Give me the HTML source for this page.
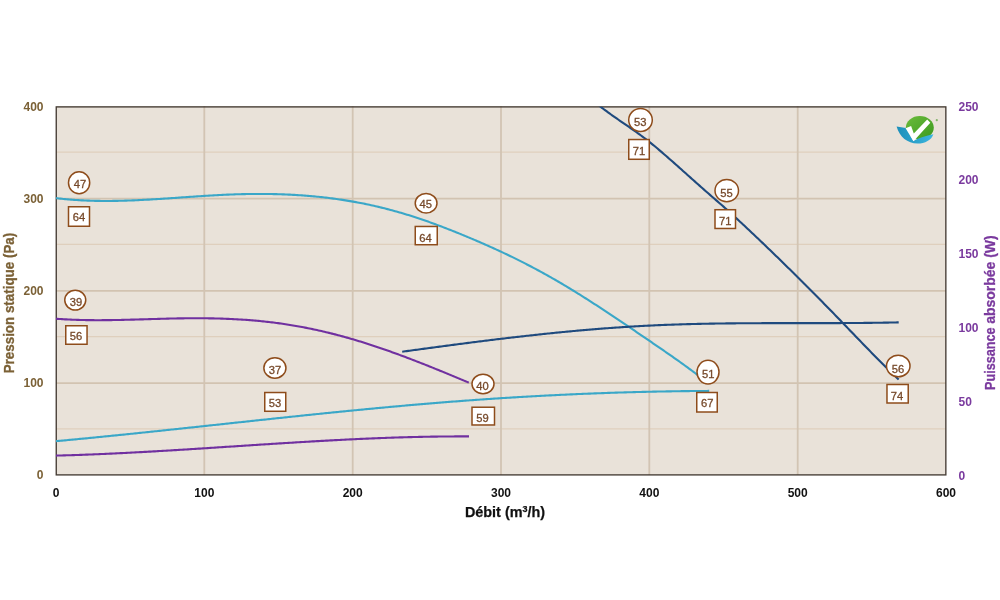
<!DOCTYPE html>
<html><head><meta charset="utf-8"><style>
html,body{margin:0;padding:0;background:#fff;width:1000px;height:600px;overflow:hidden}
svg{display:block;will-change:transform}
text{font-family:"Liberation Sans",sans-serif}
.lb{font-size:11.2px;fill:#76492a;stroke:#76492a;stroke-width:0.3px;text-anchor:middle}
.tl{font-size:12px;font-weight:bold;fill:#7b6136;text-anchor:end}
.tr{font-size:12px;font-weight:bold;fill:#7a3a9e;text-anchor:start}
.tx{font-size:12px;font-weight:bold;fill:#111;text-anchor:middle}
.ttl{font-size:14.4px;font-weight:bold;fill:#111;stroke:#111;stroke-width:0.25px;text-anchor:middle}
.ytl{font-size:14.5px;font-weight:bold;fill:#7b6136;stroke:#7b6136;stroke-width:0.3px}
.ytr{font-size:14.5px;font-weight:bold;fill:#7a3a9e;stroke:#7a3a9e;stroke-width:0.3px}
</style></head><body>
<svg width="1000" height="600" viewBox="0 0 1000 600">
<rect x="56.0" y="106.0" width="890.0" height="369.0" fill="#e9e2d9"/>
<line x1="56.0" y1="428.9" x2="946.0" y2="428.9" stroke="#dfcfbd" stroke-width="1.4"/>
<line x1="56.0" y1="336.6" x2="946.0" y2="336.6" stroke="#dfcfbd" stroke-width="1.4"/>
<line x1="56.0" y1="244.4" x2="946.0" y2="244.4" stroke="#dfcfbd" stroke-width="1.4"/>
<line x1="56.0" y1="152.1" x2="946.0" y2="152.1" stroke="#dfcfbd" stroke-width="1.4"/>
<line x1="56.0" y1="383.1" x2="946.0" y2="383.1" stroke="#d2c3b1" stroke-width="1.7"/>
<line x1="56.0" y1="290.8" x2="946.0" y2="290.8" stroke="#d2c3b1" stroke-width="1.7"/>
<line x1="56.0" y1="198.6" x2="946.0" y2="198.6" stroke="#d2c3b1" stroke-width="1.7"/>
<line x1="204.3" y1="106.0" x2="204.3" y2="475.0" stroke="#d2c4b3" stroke-width="1.8"/>
<line x1="352.7" y1="106.0" x2="352.7" y2="475.0" stroke="#d2c4b3" stroke-width="1.8"/>
<line x1="501.0" y1="106.0" x2="501.0" y2="475.0" stroke="#d2c4b3" stroke-width="1.8"/>
<line x1="649.3" y1="106.0" x2="649.3" y2="475.0" stroke="#d2c4b3" stroke-width="1.8"/>
<line x1="797.7" y1="106.0" x2="797.7" y2="475.0" stroke="#d2c4b3" stroke-width="1.8"/>
<rect x="56.25" y="106.9" width="889.6" height="368" fill="none" stroke="#453c34" stroke-width="1.35"/>
<clipPath id="pc"><rect x="56" y="106.7" width="890" height="369"/></clipPath><g clip-path="url(#pc)">
<path d="M56.00 198.08 L57.50 198.27 L59.00 198.44 L60.50 198.61 L62.00 198.78 L63.50 198.93 L65.00 199.09 L66.50 199.23 L68.00 199.37 L69.50 199.50 L71.00 199.62 L72.50 199.74 L74.00 199.85 L75.50 199.96 L77.00 200.06 L78.50 200.15 L80.00 200.24 L81.50 200.33 L83.00 200.40 L84.50 200.48 L86.00 200.54 L87.50 200.60 L89.00 200.66 L90.50 200.71 L92.00 200.76 L93.50 200.80 L95.00 200.84 L96.50 200.87 L98.00 200.89 L99.50 200.91 L101.00 200.93 L102.50 200.95 L104.00 200.95 L105.50 200.96 L107.00 200.96 L108.50 200.95 L110.00 200.94 L111.50 200.93 L113.00 200.92 L114.50 200.90 L116.00 200.87 L117.50 200.84 L119.00 200.81 L120.50 200.78 L122.00 200.74 L123.50 200.70 L125.00 200.66 L126.50 200.61 L128.00 200.56 L129.50 200.50 L131.00 200.45 L132.50 200.39 L134.00 200.33 L135.50 200.26 L137.00 200.19 L138.50 200.13 L140.00 200.05 L141.50 199.98 L143.00 199.90 L144.50 199.82 L146.00 199.74 L147.50 199.66 L149.00 199.58 L150.50 199.49 L152.00 199.40 L153.50 199.31 L155.00 199.22 L156.50 199.13 L158.00 199.03 L159.50 198.94 L161.00 198.84 L162.50 198.74 L164.00 198.64 L165.50 198.54 L167.00 198.44 L168.50 198.34 L170.00 198.24 L171.50 198.14 L173.00 198.03 L174.50 197.93 L176.00 197.83 L177.50 197.72 L179.00 197.62 L180.50 197.51 L182.00 197.41 L183.50 197.30 L185.00 197.20 L186.50 197.09 L188.00 196.99 L189.50 196.89 L191.00 196.78 L192.50 196.68 L194.00 196.58 L195.50 196.48 L197.00 196.38 L198.50 196.28 L200.00 196.18 L201.50 196.08 L203.00 195.99 L204.50 195.89 L206.00 195.80 L207.50 195.70 L209.00 195.61 L210.50 195.52 L212.00 195.44 L213.50 195.35 L215.00 195.27 L216.50 195.18 L218.00 195.10 L219.50 195.03 L221.00 194.95 L222.50 194.88 L224.00 194.80 L225.50 194.73 L227.00 194.67 L228.50 194.60 L230.00 194.54 L231.50 194.48 L233.00 194.43 L234.50 194.37 L236.00 194.32 L237.50 194.28 L239.00 194.23 L240.50 194.19 L242.00 194.15 L243.50 194.12 L245.00 194.09 L246.50 194.06 L248.00 194.03 L249.50 194.01 L251.00 193.99 L252.50 193.97 L254.00 193.96 L255.50 193.95 L257.00 193.94 L258.50 193.94 L260.00 193.93 L261.50 193.94 L263.00 193.94 L264.50 193.95 L266.00 193.97 L267.50 193.98 L269.00 194.00 L270.50 194.03 L272.00 194.05 L273.50 194.09 L275.00 194.12 L276.50 194.16 L278.00 194.20 L279.50 194.24 L281.00 194.29 L282.50 194.35 L284.00 194.40 L285.50 194.46 L287.00 194.53 L288.50 194.60 L290.00 194.67 L291.50 194.75 L293.00 194.83 L294.50 194.91 L296.00 195.00 L297.50 195.09 L299.00 195.19 L300.50 195.29 L302.00 195.39 L303.50 195.50 L305.00 195.61 L306.50 195.73 L308.00 195.85 L309.50 195.98 L311.00 196.11 L312.50 196.24 L314.00 196.38 L315.50 196.52 L317.00 196.67 L318.50 196.82 L320.00 196.98 L321.50 197.14 L323.00 197.30 L324.50 197.47 L326.00 197.65 L327.50 197.83 L329.00 198.01 L330.50 198.20 L332.00 198.39 L333.50 198.59 L335.00 198.79 L336.50 199.00 L338.00 199.21 L339.50 199.43 L341.00 199.65 L342.50 199.88 L344.00 200.11 L345.50 200.35 L347.00 200.59 L348.50 200.84 L350.00 201.09 L351.50 201.35 L353.00 201.61 L354.50 201.88 L356.00 202.15 L357.50 202.43 L359.00 202.71 L360.50 203.00 L362.00 203.29 L363.50 203.59 L365.00 203.90 L366.50 204.21 L368.00 204.52 L369.50 204.84 L371.00 205.17 L372.50 205.50 L374.00 205.84 L375.50 206.18 L377.00 206.53 L378.50 206.88 L380.00 207.24 L381.50 207.61 L383.00 207.98 L384.50 208.35 L386.00 208.73 L387.50 209.12 L389.00 209.51 L390.50 209.91 L392.00 210.32 L393.50 210.73 L395.00 211.14 L396.50 211.56 L398.00 211.99 L399.50 212.42 L401.00 212.85 L402.50 213.29 L404.00 213.74 L405.50 214.19 L407.00 214.65 L408.50 215.11 L410.00 215.58 L411.50 216.05 L413.00 216.53 L414.50 217.02 L416.00 217.51 L417.50 218.00 L419.00 218.50 L420.50 219.00 L422.00 219.51 L423.50 220.03 L425.00 220.55 L426.50 221.07 L428.00 221.60 L429.50 222.13 L431.00 222.67 L432.50 223.22 L434.00 223.76 L435.50 224.31 L437.00 224.87 L438.50 225.43 L440.00 225.99 L441.50 226.56 L443.00 227.13 L444.50 227.71 L446.00 228.29 L447.50 228.87 L449.00 229.45 L450.50 230.04 L452.00 230.64 L453.50 231.23 L455.00 231.83 L456.50 232.43 L458.00 233.04 L459.50 233.65 L461.00 234.26 L462.50 234.87 L464.00 235.49 L465.50 236.11 L467.00 236.73 L468.50 237.35 L470.00 237.98 L471.50 238.61 L473.00 239.24 L474.50 239.88 L476.00 240.52 L477.50 241.16 L479.00 241.81 L480.50 242.46 L482.00 243.11 L483.50 243.77 L485.00 244.43 L486.50 245.09 L488.00 245.76 L489.50 246.43 L491.00 247.10 L492.50 247.78 L494.00 248.46 L495.50 249.15 L497.00 249.84 L498.50 250.53 L500.00 251.22 L501.50 251.92 L503.00 252.63 L504.50 253.33 L506.00 254.05 L507.50 254.76 L509.00 255.48 L510.50 256.20 L512.00 256.93 L513.50 257.66 L515.00 258.40 L516.50 259.14 L518.00 259.89 L519.50 260.63 L521.00 261.39 L522.50 262.15 L524.00 262.91 L525.50 263.68 L527.00 264.45 L528.50 265.22 L530.00 266.00 L531.50 266.79 L533.00 267.58 L534.50 268.37 L536.00 269.17 L537.50 269.98 L539.00 270.79 L540.50 271.60 L542.00 272.42 L543.50 273.24 L545.00 274.07 L546.50 274.91 L548.00 275.75 L549.50 276.59 L551.00 277.44 L552.50 278.30 L554.00 279.16 L555.50 280.02 L557.00 280.89 L558.50 281.77 L560.00 282.65 L561.50 283.53 L563.00 284.42 L564.50 285.31 L566.00 286.21 L567.50 287.11 L569.00 288.02 L570.50 288.93 L572.00 289.84 L573.50 290.76 L575.00 291.69 L576.50 292.61 L578.00 293.54 L579.50 294.48 L581.00 295.42 L582.50 296.36 L584.00 297.30 L585.50 298.25 L587.00 299.21 L588.50 300.16 L590.00 301.12 L591.50 302.08 L593.00 303.05 L594.50 304.01 L596.00 304.98 L597.50 305.96 L599.00 306.93 L600.50 307.91 L602.00 308.90 L603.50 309.88 L605.00 310.87 L606.50 311.85 L608.00 312.85 L609.50 313.84 L611.00 314.84 L612.50 315.83 L614.00 316.83 L615.50 317.83 L617.00 318.84 L618.50 319.84 L620.00 320.85 L621.50 321.86 L623.00 322.87 L624.50 323.88 L626.00 324.89 L627.50 325.90 L629.00 326.92 L630.50 327.94 L632.00 328.95 L633.50 329.97 L635.00 330.99 L636.50 332.01 L638.00 333.03 L639.50 334.05 L641.00 335.07 L642.50 336.10 L644.00 337.12 L645.50 338.14 L647.00 339.17 L648.50 340.19 L650.00 341.21 L651.50 342.24 L653.00 343.26 L654.50 344.29 L656.00 345.31 L657.50 346.34 L659.00 347.37 L660.50 348.40 L662.00 349.43 L663.50 350.46 L665.00 351.50 L666.50 352.53 L668.00 353.57 L669.50 354.62 L671.00 355.66 L672.50 356.71 L674.00 357.77 L675.50 358.83 L677.00 359.89 L678.50 360.95 L680.00 362.02 L681.50 363.10 L683.00 364.18 L684.50 365.26 L686.00 366.35 L687.50 367.45 L689.00 368.55 L690.50 369.66 L692.00 370.77 L693.50 371.89 L695.00 373.02 L696.50 374.15 L698.00 375.29 L699.50 376.44 L701.00 377.60 L702.50 378.76 L703.00 379.15" fill="none" stroke="#3aa7c8" stroke-width="2.1" stroke-linecap="butt" stroke-linejoin="round"/>
<path d="M56.00 318.74 L57.50 318.85 L59.00 318.96 L60.50 319.06 L62.00 319.16 L63.50 319.25 L65.00 319.33 L66.50 319.41 L68.00 319.49 L69.50 319.56 L71.00 319.63 L72.50 319.69 L74.00 319.75 L75.50 319.81 L77.00 319.86 L78.50 319.91 L80.00 319.95 L81.50 319.99 L83.00 320.02 L84.50 320.05 L86.00 320.08 L87.50 320.11 L89.00 320.13 L90.50 320.14 L92.00 320.16 L93.50 320.17 L95.00 320.18 L96.50 320.18 L98.00 320.18 L99.50 320.18 L101.00 320.18 L102.50 320.17 L104.00 320.17 L105.50 320.15 L107.00 320.14 L108.50 320.12 L110.00 320.11 L111.50 320.09 L113.00 320.06 L114.50 320.04 L116.00 320.01 L117.50 319.99 L119.00 319.96 L120.50 319.93 L122.00 319.89 L123.50 319.86 L125.00 319.82 L126.50 319.79 L128.00 319.75 L129.50 319.71 L131.00 319.67 L132.50 319.63 L134.00 319.59 L135.50 319.55 L137.00 319.50 L138.50 319.46 L140.00 319.42 L141.50 319.37 L143.00 319.33 L144.50 319.28 L146.00 319.24 L147.50 319.19 L149.00 319.15 L150.50 319.10 L152.00 319.06 L153.50 319.01 L155.00 318.97 L156.50 318.93 L158.00 318.88 L159.50 318.84 L161.00 318.80 L162.50 318.76 L164.00 318.72 L165.50 318.68 L167.00 318.64 L168.50 318.61 L170.00 318.57 L171.50 318.54 L173.00 318.51 L174.50 318.47 L176.00 318.45 L177.50 318.42 L179.00 318.39 L180.50 318.37 L182.00 318.35 L183.50 318.33 L185.00 318.31 L186.50 318.29 L188.00 318.28 L189.50 318.27 L191.00 318.26 L192.50 318.25 L194.00 318.25 L195.50 318.24 L197.00 318.24 L198.50 318.25 L200.00 318.25 L201.50 318.26 L203.00 318.27 L204.50 318.28 L206.00 318.30 L207.50 318.32 L209.00 318.34 L210.50 318.36 L212.00 318.39 L213.50 318.42 L215.00 318.45 L216.50 318.49 L218.00 318.53 L219.50 318.57 L221.00 318.62 L222.50 318.67 L224.00 318.72 L225.50 318.77 L227.00 318.83 L228.50 318.89 L230.00 318.96 L231.50 319.03 L233.00 319.10 L234.50 319.18 L236.00 319.26 L237.50 319.34 L239.00 319.43 L240.50 319.52 L242.00 319.61 L243.50 319.71 L245.00 319.81 L246.50 319.92 L248.00 320.03 L249.50 320.15 L251.00 320.27 L252.50 320.39 L254.00 320.52 L255.50 320.65 L257.00 320.78 L258.50 320.92 L260.00 321.07 L261.50 321.22 L263.00 321.37 L264.50 321.53 L266.00 321.69 L267.50 321.86 L269.00 322.03 L270.50 322.21 L272.00 322.39 L273.50 322.57 L275.00 322.76 L276.50 322.96 L278.00 323.16 L279.50 323.37 L281.00 323.58 L282.50 323.79 L284.00 324.01 L285.50 324.24 L287.00 324.47 L288.50 324.70 L290.00 324.94 L291.50 325.19 L293.00 325.44 L294.50 325.69 L296.00 325.95 L297.50 326.22 L299.00 326.49 L300.50 326.76 L302.00 327.04 L303.50 327.32 L305.00 327.61 L306.50 327.90 L308.00 328.20 L309.50 328.51 L311.00 328.81 L312.50 329.13 L314.00 329.44 L315.50 329.77 L317.00 330.09 L318.50 330.42 L320.00 330.76 L321.50 331.10 L323.00 331.45 L324.50 331.80 L326.00 332.16 L327.50 332.52 L329.00 332.88 L330.50 333.25 L332.00 333.63 L333.50 334.01 L335.00 334.39 L336.50 334.78 L338.00 335.17 L339.50 335.57 L341.00 335.97 L342.50 336.38 L344.00 336.79 L345.50 337.21 L347.00 337.63 L348.50 338.06 L350.00 338.49 L351.50 338.92 L353.00 339.36 L354.50 339.80 L356.00 340.25 L357.50 340.70 L359.00 341.16 L360.50 341.62 L362.00 342.08 L363.50 342.55 L365.00 343.02 L366.50 343.49 L368.00 343.97 L369.50 344.46 L371.00 344.94 L372.50 345.43 L374.00 345.93 L375.50 346.43 L377.00 346.93 L378.50 347.44 L380.00 347.94 L381.50 348.46 L383.00 348.97 L384.50 349.49 L386.00 350.02 L387.50 350.54 L389.00 351.07 L390.50 351.61 L392.00 352.14 L393.50 352.68 L395.00 353.22 L396.50 353.77 L398.00 354.32 L399.50 354.87 L401.00 355.42 L402.50 355.98 L404.00 356.54 L405.50 357.10 L407.00 357.67 L408.50 358.24 L410.00 358.81 L411.50 359.38 L413.00 359.96 L414.50 360.53 L416.00 361.11 L417.50 361.70 L419.00 362.28 L420.50 362.87 L422.00 363.46 L423.50 364.05 L425.00 364.64 L426.50 365.24 L428.00 365.83 L429.50 366.43 L431.00 367.03 L432.50 367.64 L434.00 368.24 L435.50 368.85 L437.00 369.46 L438.50 370.07 L440.00 370.68 L441.50 371.29 L443.00 371.90 L444.50 372.52 L446.00 373.13 L447.50 373.75 L449.00 374.37 L450.50 374.99 L452.00 375.61 L453.50 376.23 L455.00 376.86 L456.50 377.48 L458.00 378.11 L459.50 378.73 L461.00 379.36 L462.50 379.99 L464.00 380.62 L465.50 381.25 L467.00 381.88 L468.50 382.51 L468.80 382.63" fill="none" stroke="#7030a0" stroke-width="2.1" stroke-linecap="butt" stroke-linejoin="round"/>
<path d="M599.00 105.45 L600.50 106.64 L602.00 107.80 L603.50 108.96 L605.00 110.09 L606.50 111.21 L608.00 112.31 L609.50 113.41 L611.00 114.49 L612.50 115.56 L614.00 116.62 L615.50 117.67 L617.00 118.72 L618.50 119.76 L620.00 120.79 L621.50 121.82 L623.00 122.85 L624.50 123.88 L626.00 124.91 L627.50 125.94 L629.00 126.98 L630.50 128.02 L632.00 129.06 L633.50 130.11 L635.00 131.17 L636.50 132.23 L638.00 133.31 L639.50 134.40 L641.00 135.49 L642.50 136.61 L644.00 137.74 L645.50 138.88 L647.00 140.04 L648.50 141.22 L650.00 142.41 L651.50 143.61 L653.00 144.83 L654.50 146.06 L656.00 147.31 L657.50 148.56 L659.00 149.83 L660.50 151.10 L662.00 152.39 L663.50 153.68 L665.00 154.98 L666.50 156.29 L668.00 157.60 L669.50 158.92 L671.00 160.24 L672.50 161.57 L674.00 162.89 L675.50 164.23 L677.00 165.56 L678.50 166.89 L680.00 168.23 L681.50 169.57 L683.00 170.91 L684.50 172.25 L686.00 173.59 L687.50 174.93 L689.00 176.27 L690.50 177.60 L692.00 178.94 L693.50 180.28 L695.00 181.62 L696.50 182.95 L698.00 184.29 L699.50 185.62 L701.00 186.95 L702.50 188.28 L704.00 189.60 L705.50 190.92 L707.00 192.24 L708.50 193.56 L710.00 194.87 L711.50 196.18 L713.00 197.49 L714.50 198.79 L716.00 200.09 L717.50 201.40 L719.00 202.70 L720.50 204.01 L722.00 205.33 L723.50 206.65 L725.00 207.98 L726.50 209.31 L728.00 210.66 L729.50 212.01 L731.00 213.37 L732.50 214.74 L734.00 216.11 L735.50 217.49 L737.00 218.87 L738.50 220.26 L740.00 221.65 L741.50 223.04 L743.00 224.44 L744.50 225.84 L746.00 227.24 L747.50 228.65 L749.00 230.06 L750.50 231.47 L752.00 232.89 L753.50 234.30 L755.00 235.73 L756.50 237.15 L758.00 238.58 L759.50 240.00 L761.00 241.44 L762.50 242.87 L764.00 244.31 L765.50 245.75 L767.00 247.19 L768.50 248.64 L770.00 250.08 L771.50 251.53 L773.00 252.99 L774.50 254.44 L776.00 255.90 L777.50 257.36 L779.00 258.82 L780.50 260.28 L782.00 261.75 L783.50 263.22 L785.00 264.69 L786.50 266.16 L788.00 267.64 L789.50 269.11 L791.00 270.59 L792.50 272.07 L794.00 273.55 L795.50 275.04 L797.00 276.53 L798.50 278.02 L800.00 279.51 L801.50 281.00 L803.00 282.49 L804.50 283.99 L806.00 285.49 L807.50 286.99 L809.00 288.49 L810.50 289.99 L812.00 291.50 L813.50 293.01 L815.00 294.52 L816.50 296.03 L818.00 297.55 L819.50 299.07 L821.00 300.59 L822.50 302.11 L824.00 303.64 L825.50 305.16 L827.00 306.69 L828.50 308.23 L830.00 309.76 L831.50 311.30 L833.00 312.84 L834.50 314.38 L836.00 315.93 L837.50 317.48 L839.00 319.03 L840.50 320.58 L842.00 322.13 L843.50 323.69 L845.00 325.25 L846.50 326.80 L848.00 328.36 L849.50 329.92 L851.00 331.48 L852.50 333.03 L854.00 334.59 L855.50 336.15 L857.00 337.70 L858.50 339.26 L860.00 340.81 L861.50 342.36 L863.00 343.91 L864.50 345.46 L866.00 347.00 L867.50 348.55 L869.00 350.09 L870.50 351.62 L872.00 353.15 L873.50 354.68 L875.00 356.21 L876.50 357.73 L878.00 359.25 L879.50 360.76 L881.00 362.26 L882.50 363.77 L884.00 365.26 L885.50 366.75 L887.00 368.24 L888.50 369.71 L890.00 371.19 L891.50 372.65 L893.00 374.11 L894.50 375.56 L896.00 377.00 L897.50 378.44 L898.70 379.58" fill="none" stroke="#1f4a7e" stroke-width="2.1" stroke-linecap="butt" stroke-linejoin="round"/>
<path d="M402.20 351.72 L403.70 351.52 L405.20 351.31 L406.70 351.11 L408.20 350.90 L409.70 350.70 L411.20 350.49 L412.70 350.29 L414.20 350.08 L415.70 349.88 L417.20 349.67 L418.70 349.47 L420.20 349.26 L421.70 349.06 L423.20 348.86 L424.70 348.65 L426.20 348.45 L427.70 348.25 L429.20 348.04 L430.70 347.84 L432.20 347.64 L433.70 347.44 L435.20 347.24 L436.70 347.04 L438.20 346.84 L439.70 346.63 L441.20 346.43 L442.70 346.23 L444.20 346.04 L445.70 345.84 L447.20 345.64 L448.70 345.44 L450.20 345.24 L451.70 345.04 L453.20 344.85 L454.70 344.65 L456.20 344.45 L457.70 344.26 L459.20 344.06 L460.70 343.87 L462.20 343.67 L463.70 343.48 L465.20 343.28 L466.70 343.09 L468.20 342.90 L469.70 342.70 L471.20 342.51 L472.70 342.32 L474.20 342.13 L475.70 341.94 L477.20 341.75 L478.70 341.56 L480.20 341.37 L481.70 341.18 L483.20 341.00 L484.70 340.81 L486.20 340.62 L487.70 340.44 L489.20 340.25 L490.70 340.07 L492.20 339.88 L493.70 339.70 L495.20 339.52 L496.70 339.33 L498.20 339.15 L499.70 338.97 L501.20 338.79 L502.70 338.61 L504.20 338.43 L505.70 338.25 L507.20 338.08 L508.70 337.90 L510.20 337.72 L511.70 337.55 L513.20 337.37 L514.70 337.20 L516.20 337.03 L517.70 336.85 L519.20 336.68 L520.70 336.51 L522.20 336.34 L523.70 336.17 L525.20 336.00 L526.70 335.83 L528.20 335.67 L529.70 335.50 L531.20 335.34 L532.70 335.17 L534.20 335.01 L535.70 334.84 L537.20 334.68 L538.70 334.52 L540.20 334.36 L541.70 334.20 L543.20 334.04 L544.70 333.89 L546.20 333.73 L547.70 333.57 L549.20 333.42 L550.70 333.26 L552.20 333.11 L553.70 332.96 L555.20 332.81 L556.70 332.66 L558.20 332.51 L559.70 332.36 L561.20 332.21 L562.70 332.07 L564.20 331.92 L565.70 331.78 L567.20 331.63 L568.70 331.49 L570.20 331.35 L571.70 331.21 L573.20 331.07 L574.70 330.93 L576.20 330.80 L577.70 330.66 L579.20 330.53 L580.70 330.39 L582.20 330.26 L583.70 330.13 L585.20 330.00 L586.70 329.87 L588.20 329.74 L589.70 329.61 L591.20 329.49 L592.70 329.36 L594.20 329.24 L595.70 329.12 L597.20 329.00 L598.70 328.88 L600.20 328.76 L601.70 328.64 L603.20 328.53 L604.70 328.41 L606.20 328.30 L607.70 328.18 L609.20 328.07 L610.70 327.96 L612.20 327.86 L613.70 327.75 L615.20 327.64 L616.70 327.54 L618.20 327.43 L619.70 327.33 L621.20 327.23 L622.70 327.13 L624.20 327.03 L625.70 326.94 L627.20 326.84 L628.70 326.75 L630.20 326.65 L631.70 326.56 L633.20 326.47 L634.70 326.38 L636.20 326.30 L637.70 326.21 L639.20 326.13 L640.70 326.04 L642.20 325.96 L643.70 325.88 L645.20 325.80 L646.70 325.73 L648.20 325.65 L649.70 325.58 L651.20 325.50 L652.70 325.43 L654.20 325.36 L655.70 325.29 L657.20 325.23 L658.70 325.16 L660.20 325.10 L661.70 325.03 L663.20 324.97 L664.70 324.91 L666.20 324.85 L667.70 324.80 L669.20 324.74 L670.70 324.68 L672.20 324.63 L673.70 324.58 L675.20 324.53 L676.70 324.48 L678.20 324.43 L679.70 324.38 L681.20 324.34 L682.70 324.29 L684.20 324.25 L685.70 324.20 L687.20 324.16 L688.70 324.12 L690.20 324.08 L691.70 324.04 L693.20 324.01 L694.70 323.97 L696.20 323.93 L697.70 323.90 L699.20 323.87 L700.70 323.83 L702.20 323.80 L703.70 323.77 L705.20 323.74 L706.70 323.71 L708.20 323.69 L709.70 323.66 L711.20 323.63 L712.70 323.61 L714.20 323.58 L715.70 323.56 L717.20 323.54 L718.70 323.52 L720.20 323.50 L721.70 323.48 L723.20 323.46 L724.70 323.44 L726.20 323.42 L727.70 323.40 L729.20 323.39 L730.70 323.37 L732.20 323.36 L733.70 323.34 L735.20 323.33 L736.70 323.32 L738.20 323.30 L739.70 323.29 L741.20 323.28 L742.70 323.27 L744.20 323.26 L745.70 323.25 L747.20 323.24 L748.70 323.23 L750.20 323.22 L751.70 323.22 L753.20 323.21 L754.70 323.20 L756.20 323.20 L757.70 323.19 L759.20 323.18 L760.70 323.18 L762.20 323.17 L763.70 323.17 L765.20 323.17 L766.70 323.16 L768.20 323.16 L769.70 323.16 L771.20 323.15 L772.70 323.15 L774.20 323.15 L775.70 323.15 L777.20 323.15 L778.70 323.14 L780.20 323.14 L781.70 323.14 L783.20 323.14 L784.70 323.14 L786.20 323.14 L787.70 323.14 L789.20 323.14 L790.70 323.14 L792.20 323.14 L793.70 323.14 L795.20 323.14 L796.70 323.14 L798.20 323.14 L799.70 323.14 L801.20 323.14 L802.70 323.14 L804.20 323.14 L805.70 323.13 L807.20 323.13 L808.70 323.13 L810.20 323.13 L811.70 323.13 L813.20 323.13 L814.70 323.13 L816.20 323.13 L817.70 323.13 L819.20 323.13 L820.70 323.13 L822.20 323.12 L823.70 323.12 L825.20 323.12 L826.70 323.12 L828.20 323.11 L829.70 323.11 L831.20 323.11 L832.70 323.10 L834.20 323.10 L835.70 323.09 L837.20 323.09 L838.70 323.08 L840.20 323.08 L841.70 323.07 L843.20 323.07 L844.70 323.06 L846.20 323.05 L847.70 323.04 L849.20 323.03 L850.70 323.03 L852.20 323.02 L853.70 323.01 L855.20 323.00 L856.70 322.98 L858.20 322.97 L859.70 322.96 L861.20 322.95 L862.70 322.93 L864.20 322.92 L865.70 322.91 L867.20 322.89 L868.70 322.87 L870.20 322.86 L871.70 322.84 L873.20 322.82 L874.70 322.80 L876.20 322.78 L877.70 322.76 L879.20 322.74 L880.70 322.72 L882.20 322.70 L883.70 322.67 L885.20 322.65 L886.70 322.62 L888.20 322.59 L889.70 322.57 L891.20 322.54 L892.70 322.51 L894.20 322.48 L895.70 322.45 L897.20 322.42 L898.70 322.38 L898.70 322.38" fill="none" stroke="#1f4a7e" stroke-width="2.1" stroke-linecap="butt" stroke-linejoin="round"/>
<path d="M56.00 441.17 L57.50 441.04 L59.00 440.90 L60.50 440.76 L62.00 440.62 L63.50 440.48 L65.00 440.34 L66.50 440.20 L68.00 440.06 L69.50 439.92 L71.00 439.77 L72.50 439.63 L74.00 439.49 L75.50 439.35 L77.00 439.20 L78.50 439.06 L80.00 438.92 L81.50 438.77 L83.00 438.63 L84.50 438.48 L86.00 438.34 L87.50 438.19 L89.00 438.04 L90.50 437.90 L92.00 437.75 L93.50 437.60 L95.00 437.46 L96.50 437.31 L98.00 437.16 L99.50 437.01 L101.00 436.86 L102.50 436.71 L104.00 436.56 L105.50 436.41 L107.00 436.26 L108.50 436.11 L110.00 435.96 L111.50 435.81 L113.00 435.66 L114.50 435.51 L116.00 435.36 L117.50 435.21 L119.00 435.05 L120.50 434.90 L122.00 434.75 L123.50 434.59 L125.00 434.44 L126.50 434.29 L128.00 434.13 L129.50 433.98 L131.00 433.83 L132.50 433.67 L134.00 433.52 L135.50 433.36 L137.00 433.21 L138.50 433.05 L140.00 432.89 L141.50 432.74 L143.00 432.58 L144.50 432.43 L146.00 432.27 L147.50 432.11 L149.00 431.96 L150.50 431.80 L152.00 431.64 L153.50 431.48 L155.00 431.33 L156.50 431.17 L158.00 431.01 L159.50 430.85 L161.00 430.69 L162.50 430.53 L164.00 430.38 L165.50 430.22 L167.00 430.06 L168.50 429.90 L170.00 429.74 L171.50 429.58 L173.00 429.42 L174.50 429.26 L176.00 429.10 L177.50 428.94 L179.00 428.78 L180.50 428.62 L182.00 428.46 L183.50 428.30 L185.00 428.14 L186.50 427.98 L188.00 427.82 L189.50 427.66 L191.00 427.50 L192.50 427.34 L194.00 427.18 L195.50 427.01 L197.00 426.85 L198.50 426.69 L200.00 426.53 L201.50 426.37 L203.00 426.21 L204.50 426.05 L206.00 425.89 L207.50 425.72 L209.00 425.56 L210.50 425.40 L212.00 425.24 L213.50 425.08 L215.00 424.92 L216.50 424.75 L218.00 424.59 L219.50 424.43 L221.00 424.27 L222.50 424.11 L224.00 423.95 L225.50 423.78 L227.00 423.62 L228.50 423.46 L230.00 423.30 L231.50 423.14 L233.00 422.98 L234.50 422.81 L236.00 422.65 L237.50 422.49 L239.00 422.33 L240.50 422.17 L242.00 422.01 L243.50 421.85 L245.00 421.68 L246.50 421.52 L248.00 421.36 L249.50 421.20 L251.00 421.04 L252.50 420.88 L254.00 420.72 L255.50 420.56 L257.00 420.40 L258.50 420.24 L260.00 420.07 L261.50 419.91 L263.00 419.75 L264.50 419.59 L266.00 419.43 L267.50 419.27 L269.00 419.11 L270.50 418.95 L272.00 418.79 L273.50 418.63 L275.00 418.48 L276.50 418.32 L278.00 418.16 L279.50 418.00 L281.00 417.84 L282.50 417.68 L284.00 417.52 L285.50 417.36 L287.00 417.20 L288.50 417.05 L290.00 416.89 L291.50 416.73 L293.00 416.57 L294.50 416.42 L296.00 416.26 L297.50 416.10 L299.00 415.95 L300.50 415.79 L302.00 415.63 L303.50 415.48 L305.00 415.32 L306.50 415.16 L308.00 415.01 L309.50 414.85 L311.00 414.70 L312.50 414.54 L314.00 414.39 L315.50 414.23 L317.00 414.08 L318.50 413.93 L320.00 413.77 L321.50 413.62 L323.00 413.47 L324.50 413.31 L326.00 413.16 L327.50 413.01 L329.00 412.86 L330.50 412.70 L332.00 412.55 L333.50 412.40 L335.00 412.25 L336.50 412.10 L338.00 411.95 L339.50 411.80 L341.00 411.65 L342.50 411.50 L344.00 411.35 L345.50 411.20 L347.00 411.05 L348.50 410.91 L350.00 410.76 L351.50 410.61 L353.00 410.46 L354.50 410.32 L356.00 410.17 L357.50 410.02 L359.00 409.88 L360.50 409.73 L362.00 409.59 L363.50 409.44 L365.00 409.30 L366.50 409.15 L368.00 409.01 L369.50 408.87 L371.00 408.72 L372.50 408.58 L374.00 408.44 L375.50 408.30 L377.00 408.15 L378.50 408.01 L380.00 407.87 L381.50 407.73 L383.00 407.59 L384.50 407.45 L386.00 407.32 L387.50 407.18 L389.00 407.04 L390.50 406.90 L392.00 406.76 L393.50 406.63 L395.00 406.49 L396.50 406.35 L398.00 406.22 L399.50 406.08 L401.00 405.95 L402.50 405.82 L404.00 405.68 L405.50 405.55 L407.00 405.42 L408.50 405.28 L410.00 405.15 L411.50 405.02 L413.00 404.89 L414.50 404.76 L416.00 404.63 L417.50 404.50 L419.00 404.37 L420.50 404.24 L422.00 404.12 L423.50 403.99 L425.00 403.86 L426.50 403.74 L428.00 403.61 L429.50 403.48 L431.00 403.36 L432.50 403.24 L434.00 403.11 L435.50 402.99 L437.00 402.87 L438.50 402.75 L440.00 402.62 L441.50 402.50 L443.00 402.38 L444.50 402.26 L446.00 402.14 L447.50 402.03 L449.00 401.91 L450.50 401.79 L452.00 401.67 L453.50 401.56 L455.00 401.44 L456.50 401.33 L458.00 401.21 L459.50 401.10 L461.00 400.99 L462.50 400.87 L464.00 400.76 L465.50 400.65 L467.00 400.54 L468.50 400.43 L470.00 400.32 L471.50 400.21 L473.00 400.10 L474.50 400.00 L476.00 399.89 L477.50 399.78 L479.00 399.68 L480.50 399.57 L482.00 399.47 L483.50 399.36 L485.00 399.26 L486.50 399.16 L488.00 399.06 L489.50 398.95 L491.00 398.85 L492.50 398.75 L494.00 398.65 L495.50 398.55 L497.00 398.46 L498.50 398.36 L500.00 398.26 L501.50 398.17 L503.00 398.07 L504.50 397.97 L506.00 397.88 L507.50 397.79 L509.00 397.69 L510.50 397.60 L512.00 397.51 L513.50 397.42 L515.00 397.33 L516.50 397.24 L518.00 397.15 L519.50 397.06 L521.00 396.97 L522.50 396.88 L524.00 396.79 L525.50 396.71 L527.00 396.62 L528.50 396.54 L530.00 396.45 L531.50 396.37 L533.00 396.28 L534.50 396.20 L536.00 396.12 L537.50 396.04 L539.00 395.96 L540.50 395.88 L542.00 395.80 L543.50 395.72 L545.00 395.64 L546.50 395.56 L548.00 395.48 L549.50 395.41 L551.00 395.33 L552.50 395.26 L554.00 395.18 L555.50 395.11 L557.00 395.04 L558.50 394.96 L560.00 394.89 L561.50 394.82 L563.00 394.75 L564.50 394.68 L566.00 394.61 L567.50 394.54 L569.00 394.47 L570.50 394.40 L572.00 394.34 L573.50 394.27 L575.00 394.20 L576.50 394.14 L578.00 394.07 L579.50 394.01 L581.00 393.95 L582.50 393.89 L584.00 393.82 L585.50 393.76 L587.00 393.70 L588.50 393.64 L590.00 393.58 L591.50 393.52 L593.00 393.47 L594.50 393.41 L596.00 393.35 L597.50 393.29 L599.00 393.24 L600.50 393.18 L602.00 393.13 L603.50 393.08 L605.00 393.02 L606.50 392.97 L608.00 392.92 L609.50 392.87 L611.00 392.82 L612.50 392.77 L614.00 392.72 L615.50 392.67 L617.00 392.62 L618.50 392.57 L620.00 392.53 L621.50 392.48 L623.00 392.44 L624.50 392.39 L626.00 392.35 L627.50 392.30 L629.00 392.26 L630.50 392.22 L632.00 392.18 L633.50 392.14 L635.00 392.10 L636.50 392.06 L638.00 392.02 L639.50 391.98 L641.00 391.94 L642.50 391.91 L644.00 391.87 L645.50 391.83 L647.00 391.80 L648.50 391.76 L650.00 391.73 L651.50 391.70 L653.00 391.67 L654.50 391.63 L656.00 391.60 L657.50 391.57 L659.00 391.54 L660.50 391.51 L662.00 391.48 L663.50 391.46 L665.00 391.43 L666.50 391.40 L668.00 391.38 L669.50 391.35 L671.00 391.33 L672.50 391.30 L674.00 391.28 L675.50 391.26 L677.00 391.23 L678.50 391.21 L680.00 391.19 L681.50 391.17 L683.00 391.15 L684.50 391.13 L686.00 391.12 L687.50 391.10 L689.00 391.08 L690.50 391.06 L692.00 391.05 L693.50 391.03 L695.00 391.02 L696.50 391.01 L698.00 390.99 L699.50 390.98 L701.00 390.97 L702.50 390.96 L704.00 390.95 L705.50 390.94 L707.00 390.93 L708.50 390.92 L709.20 390.92" fill="none" stroke="#3aa7c8" stroke-width="2.1" stroke-linecap="butt" stroke-linejoin="round"/>
<path d="M56.00 455.60 L57.50 455.56 L59.00 455.52 L60.50 455.48 L62.00 455.44 L63.50 455.40 L65.00 455.36 L66.50 455.31 L68.00 455.27 L69.50 455.22 L71.00 455.18 L72.50 455.13 L74.00 455.08 L75.50 455.03 L77.00 454.98 L78.50 454.93 L80.00 454.88 L81.50 454.83 L83.00 454.77 L84.50 454.72 L86.00 454.66 L87.50 454.61 L89.00 454.55 L90.50 454.49 L92.00 454.43 L93.50 454.37 L95.00 454.31 L96.50 454.25 L98.00 454.19 L99.50 454.13 L101.00 454.06 L102.50 454.00 L104.00 453.93 L105.50 453.87 L107.00 453.80 L108.50 453.73 L110.00 453.66 L111.50 453.60 L113.00 453.53 L114.50 453.46 L116.00 453.38 L117.50 453.31 L119.00 453.24 L120.50 453.17 L122.00 453.09 L123.50 453.02 L125.00 452.94 L126.50 452.87 L128.00 452.79 L129.50 452.72 L131.00 452.64 L132.50 452.56 L134.00 452.48 L135.50 452.40 L137.00 452.32 L138.50 452.24 L140.00 452.16 L141.50 452.08 L143.00 452.00 L144.50 451.92 L146.00 451.83 L147.50 451.75 L149.00 451.67 L150.50 451.58 L152.00 451.50 L153.50 451.41 L155.00 451.33 L156.50 451.24 L158.00 451.15 L159.50 451.07 L161.00 450.98 L162.50 450.89 L164.00 450.80 L165.50 450.71 L167.00 450.62 L168.50 450.53 L170.00 450.44 L171.50 450.35 L173.00 450.26 L174.50 450.17 L176.00 450.08 L177.50 449.99 L179.00 449.90 L180.50 449.80 L182.00 449.71 L183.50 449.62 L185.00 449.52 L186.50 449.43 L188.00 449.34 L189.50 449.24 L191.00 449.15 L192.50 449.05 L194.00 448.96 L195.50 448.86 L197.00 448.77 L198.50 448.67 L200.00 448.58 L201.50 448.48 L203.00 448.38 L204.50 448.29 L206.00 448.19 L207.50 448.09 L209.00 448.00 L210.50 447.90 L212.00 447.80 L213.50 447.70 L215.00 447.61 L216.50 447.51 L218.00 447.41 L219.50 447.31 L221.00 447.22 L222.50 447.12 L224.00 447.02 L225.50 446.92 L227.00 446.82 L228.50 446.73 L230.00 446.63 L231.50 446.53 L233.00 446.43 L234.50 446.33 L236.00 446.23 L237.50 446.14 L239.00 446.04 L240.50 445.94 L242.00 445.84 L243.50 445.74 L245.00 445.64 L246.50 445.55 L248.00 445.45 L249.50 445.35 L251.00 445.25 L252.50 445.16 L254.00 445.06 L255.50 444.96 L257.00 444.86 L258.50 444.77 L260.00 444.67 L261.50 444.57 L263.00 444.47 L264.50 444.38 L266.00 444.28 L267.50 444.19 L269.00 444.09 L270.50 443.99 L272.00 443.90 L273.50 443.80 L275.00 443.71 L276.50 443.61 L278.00 443.52 L279.50 443.42 L281.00 443.33 L282.50 443.23 L284.00 443.14 L285.50 443.05 L287.00 442.95 L288.50 442.86 L290.00 442.77 L291.50 442.68 L293.00 442.58 L294.50 442.49 L296.00 442.40 L297.50 442.31 L299.00 442.22 L300.50 442.13 L302.00 442.04 L303.50 441.95 L305.00 441.86 L306.50 441.77 L308.00 441.68 L309.50 441.60 L311.00 441.51 L312.50 441.42 L314.00 441.33 L315.50 441.25 L317.00 441.16 L318.50 441.08 L320.00 440.99 L321.50 440.91 L323.00 440.83 L324.50 440.74 L326.00 440.66 L327.50 440.58 L329.00 440.50 L330.50 440.41 L332.00 440.33 L333.50 440.25 L335.00 440.17 L336.50 440.10 L338.00 440.02 L339.50 439.94 L341.00 439.86 L342.50 439.79 L344.00 439.71 L345.50 439.64 L347.00 439.56 L348.50 439.49 L350.00 439.41 L351.50 439.34 L353.00 439.27 L354.50 439.20 L356.00 439.13 L357.50 439.06 L359.00 438.99 L360.50 438.92 L362.00 438.85 L363.50 438.79 L365.00 438.72 L366.50 438.65 L368.00 438.59 L369.50 438.53 L371.00 438.46 L372.50 438.40 L374.00 438.34 L375.50 438.28 L377.00 438.22 L378.50 438.16 L380.00 438.10 L381.50 438.04 L383.00 437.99 L384.50 437.93 L386.00 437.87 L387.50 437.82 L389.00 437.77 L390.50 437.71 L392.00 437.66 L393.50 437.61 L395.00 437.56 L396.50 437.51 L398.00 437.47 L399.50 437.42 L401.00 437.37 L402.50 437.33 L404.00 437.28 L405.50 437.24 L407.00 437.20 L408.50 437.16 L410.00 437.12 L411.50 437.08 L413.00 437.04 L414.50 437.00 L416.00 436.97 L417.50 436.93 L419.00 436.90 L420.50 436.87 L422.00 436.83 L423.50 436.80 L425.00 436.77 L426.50 436.74 L428.00 436.72 L429.50 436.69 L431.00 436.67 L432.50 436.64 L434.00 436.62 L435.50 436.60 L437.00 436.58 L438.50 436.56 L440.00 436.54 L441.50 436.52 L443.00 436.50 L444.50 436.49 L446.00 436.48 L447.50 436.46 L449.00 436.45 L450.50 436.44 L452.00 436.43 L453.50 436.43 L455.00 436.42 L456.50 436.42 L458.00 436.41 L459.50 436.41 L461.00 436.41 L462.50 436.41 L464.00 436.41 L465.50 436.41 L467.00 436.42 L468.50 436.42 L469.00 436.42" fill="none" stroke="#7030a0" stroke-width="2.1" stroke-linecap="butt" stroke-linejoin="round"/>
</g>
<ellipse cx="79.10" cy="182.75" rx="10.62" ry="11.00" fill="#fff" stroke="#8e4c1b" stroke-width="1.50"/>
<text x="80.00" y="188.00" class="lb">47</text>
<ellipse cx="75.25" cy="300.10" rx="10.50" ry="9.88" fill="#fff" stroke="#8e4c1b" stroke-width="1.50"/>
<text x="76.10" y="305.50" class="lb">39</text>
<ellipse cx="426.10" cy="203.25" rx="10.88" ry="9.75" fill="#fff" stroke="#8e4c1b" stroke-width="1.50"/>
<text x="425.75" y="208.25" class="lb">45</text>
<ellipse cx="274.90" cy="367.95" rx="11.05" ry="10.20" fill="#fff" stroke="#8e4c1b" stroke-width="1.50"/>
<text x="275.05" y="373.90" class="lb">37</text>
<ellipse cx="483.00" cy="384.00" rx="11.00" ry="9.75" fill="#fff" stroke="#8e4c1b" stroke-width="1.50"/>
<text x="482.40" y="390.00" class="lb">40</text>
<ellipse cx="640.50" cy="120.00" rx="11.80" ry="11.50" fill="#fff" stroke="#8e4c1b" stroke-width="1.50"/>
<text x="640.35" y="126.40" class="lb">53</text>
<ellipse cx="726.75" cy="190.60" rx="11.75" ry="11.12" fill="#fff" stroke="#8e4c1b" stroke-width="1.50"/>
<text x="726.40" y="197.00" class="lb">55</text>
<ellipse cx="708.00" cy="372.10" rx="11.00" ry="11.88" fill="#fff" stroke="#8e4c1b" stroke-width="1.50"/>
<text x="708.25" y="378.00" class="lb">51</text>
<ellipse cx="898.25" cy="366.00" rx="11.75" ry="10.75" fill="#fff" stroke="#8e4c1b" stroke-width="1.50"/>
<text x="898.00" y="373.00" class="lb">56</text>
<rect x="68.50" y="206.75" width="21.00" height="19.50" fill="#fff" stroke="#8e4c1b" stroke-width="1.50"/>
<text x="79.10" y="221.25" class="lb">64</text>
<rect x="65.75" y="325.75" width="21.30" height="18.50" fill="#fff" stroke="#8e4c1b" stroke-width="1.50"/>
<text x="76.10" y="339.80" class="lb">56</text>
<rect x="415.25" y="226.47" width="22.00" height="18.25" fill="#fff" stroke="#8e4c1b" stroke-width="1.50"/>
<text x="425.60" y="241.50" class="lb">64</text>
<rect x="264.75" y="392.52" width="21.00" height="18.75" fill="#fff" stroke="#8e4c1b" stroke-width="1.50"/>
<text x="274.90" y="407.00" class="lb">53</text>
<rect x="472.00" y="407.23" width="22.50" height="17.75" fill="#fff" stroke="#8e4c1b" stroke-width="1.50"/>
<text x="482.40" y="422.00" class="lb">59</text>
<rect x="628.75" y="139.53" width="20.50" height="19.75" fill="#fff" stroke="#8e4c1b" stroke-width="1.50"/>
<text x="639.10" y="154.50" class="lb">71</text>
<rect x="715.00" y="209.72" width="20.50" height="18.75" fill="#fff" stroke="#8e4c1b" stroke-width="1.50"/>
<text x="725.25" y="224.75" class="lb">71</text>
<rect x="696.75" y="392.50" width="20.50" height="19.50" fill="#fff" stroke="#8e4c1b" stroke-width="1.50"/>
<text x="707.25" y="407.00" class="lb">67</text>
<rect x="886.98" y="384.50" width="21.25" height="18.50" fill="#fff" stroke="#8e4c1b" stroke-width="1.50"/>
<text x="897.00" y="399.75" class="lb">74</text>
<text x="43.5" y="478.5" class="tl">0</text>
<text x="43.5" y="386.5" class="tl">100</text>
<text x="43.5" y="294.5" class="tl">200</text>
<text x="43.5" y="202.5" class="tl">300</text>
<text x="43.5" y="110.5" class="tl">400</text>
<text x="958.5" y="479.5" class="tr">0</text>
<text x="958.5" y="405.7" class="tr">50</text>
<text x="958.5" y="331.9" class="tr">100</text>
<text x="958.5" y="258.1" class="tr">150</text>
<text x="958.5" y="184.3" class="tr">200</text>
<text x="958.5" y="110.5" class="tr">250</text>
<text x="56.0" y="496.5" class="tx">0</text>
<text x="204.3" y="496.5" class="tx">100</text>
<text x="352.7" y="496.5" class="tx">200</text>
<text x="501.0" y="496.5" class="tx">300</text>
<text x="649.3" y="496.5" class="tx">400</text>
<text x="797.7" y="496.5" class="tx">500</text>
<text x="946.0" y="496.5" class="tx">600</text>
<text x="505" y="516.6" class="ttl">Débit (m<tspan font-size="9" dy="-4.3">3</tspan><tspan dy="4.3">/h)</tspan></text>
<text transform="translate(14.2 373.3) rotate(-90)" class="ytl" textLength="140.5" lengthAdjust="spacingAndGlyphs">Pression statique (Pa)</text>
<text transform="translate(994.6 390) rotate(-90)" class="ytr" textLength="62.5" lengthAdjust="spacingAndGlyphs">Puissance</text>
<text transform="translate(994.6 323.8) rotate(-90)" class="ytr" textLength="88.5" lengthAdjust="spacingAndGlyphs">absorbée (W)</text>
<g>
<defs>
<linearGradient id="gg" x1="0" y1="0" x2="1" y2="1"><stop offset="0" stop-color="#6cbb3c"/><stop offset="1" stop-color="#3a9a1e"/></linearGradient>
<linearGradient id="bg" x1="0" y1="0" x2="1" y2="0"><stop offset="0" stop-color="#1d8fba"/><stop offset="1" stop-color="#3cb6de"/></linearGradient>
</defs>
<ellipse cx="919.8" cy="127.6" rx="14" ry="11.6" fill="url(#gg)"/>
<path d="M896.6 126.6 L906 128 L913.3 141 Q922 136.2 933.4 134.2 C931.5 140 925 143.6 917.5 143.6 C907.5 143.6 899.5 137 896.6 126.6 Z" fill="url(#bg)"/>
<path d="M905.6 128.2 L911.1 126.1 L913.8 133.4 L927.2 119.4 L930.3 122.8 L913.5 141.2 Z" fill="#fff"/>
<circle cx="936.8" cy="120.2" r="1.1" fill="#6aa84f" opacity="0.8"/>
</g>
</svg>
</body></html>
